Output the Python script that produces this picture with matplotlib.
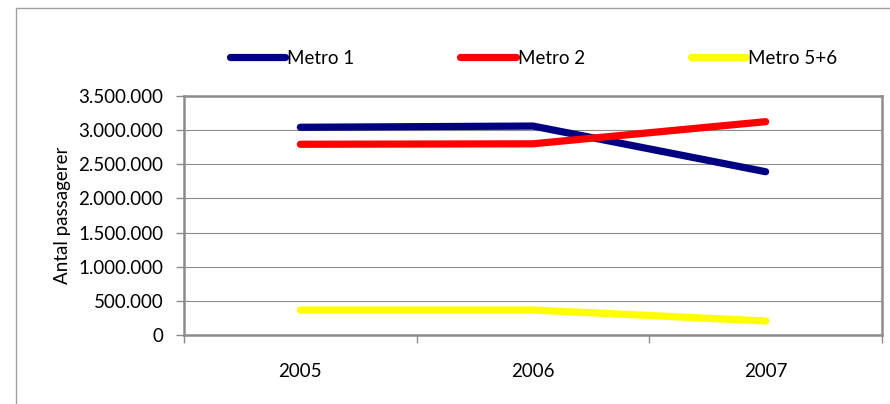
import matplotlib
matplotlib.use("Agg")
import matplotlib.pyplot as plt
from matplotlib.patches import Rectangle
from matplotlib.ticker import FuncFormatter, FixedLocator

plt.rcParams['font.family'] = ['Lato', 'DejaVu Sans']

years = ["2005", "2006", "2007"]
metro_1 = [3042000, 3060000, 2391000]
metro_2 = [2793000, 2800000, 3124000]
metro_5_6 = [366000, 366000, 205000]

series_names = ["Metro 1", "Metro 2", "Metro 5+6"]
series_colors = ["#000080", "#FF0000", "#FFFF00"]

W, H = 890, 404
fig = plt.figure(figsize=(W / 100, H / 100), dpi=100)
ax = fig.add_axes([184 / W, 1 - 335 / H, (882 - 184) / W, (335 - 96) / H])

# chart-area frame
fig.patches.append(Rectangle((16 / W, -0.2), 1.2, 1.2 - 8 / H,
                             transform=fig.transFigure, fill=False,
                             edgecolor="#a0a0a0", linewidth=1.0, zorder=0))

x = list(range(len(years)))
for vals, name, col in zip([metro_1, metro_2, metro_5_6], series_names, series_colors):
    ax.plot(x, vals, color=col, linewidth=5.2, solid_capstyle="round",
            solid_joinstyle="round", label=name, zorder=3)

ax.set_xlim(-0.5, len(years) - 0.5)
ax.set_ylim(0, 3500000)
ax.set_yticks(range(0, 3500001, 500000))
ax.yaxis.set_major_formatter(FuncFormatter(lambda v, p: f"{v:,.0f}".replace(",", ".")))
ax.grid(axis="y", color="#8c8c8c", linewidth=0.8, zorder=1)

# category boundaries carry the tick marks, labels sit between them
ax.xaxis.set_major_locator(FixedLocator([i - 0.5 for i in range(len(years) + 1)]))
ax.xaxis.set_major_formatter(FuncFormatter(lambda v, p: ""))
ax.set_xticks(x, minor=True)
ax.set_xticklabels(years, minor=True)
ax.tick_params(axis="x", which="minor", length=0, pad=20, labelsize=13.5)
ax.tick_params(axis="x", which="major", length=6, width=1, color="#8c8c8c", direction="out")
ax.tick_params(axis="y", length=6, width=1, color="#8c8c8c", direction="out", pad=9, labelsize=13.5)

for s in ax.spines.values():
    s.set_color("#8c8c8c")
    s.set_linewidth(1.8)

ax.set_ylabel("Antal passagerer", fontsize=13.5)
ax.yaxis.set_label_coords(-0.162, 0.5)

fig.legend(loc="center left", bbox_to_anchor=(230 / W, 1 - 58 / H), ncol=3,
           frameon=False, fontsize=13.5, handlelength=2.95, handletextpad=0.1,
           columnspacing=5.65, borderpad=0, borderaxespad=0)

fig.savefig("out.png", dpi=100)
